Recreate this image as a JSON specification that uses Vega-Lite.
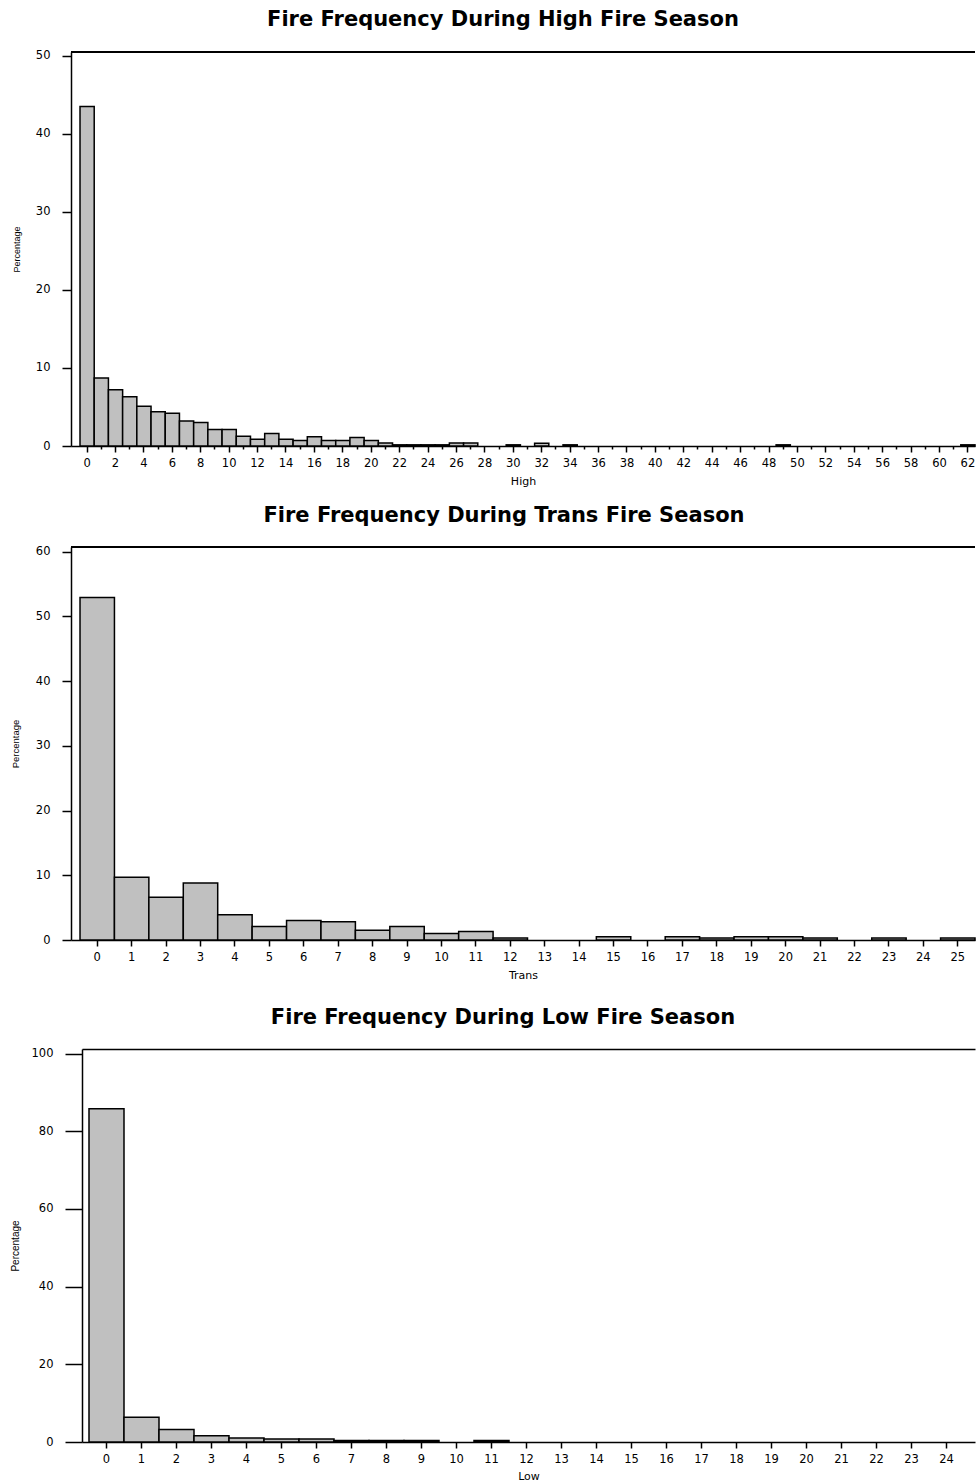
{
  "$schema": "https://vega.github.io/schema/vega-lite/v6.json",
  "background": "white",
  "padding": {"left": 10, "top": 8, "right": 0, "bottom": 0},
  "config": {
    "view": {"stroke": null},
    "title": {"font": "DejaVu Sans", "fontSize": 21, "fontWeight": "bold", "color": "black", "offset": 20},
    "axis": {"domainColor": "black", "domainWidth": 1.5, "tickColor": "black", "tickWidth": 1.5, "labelColor": "black", "titleColor": "black", "labelFont": "DejaVu Sans", "labelFontSize": 11.5, "titleFont": "DejaVu Sans", "titleFontWeight": "normal", "grid": false, "labelAngle": 0}
  },
  "datasets": {
    "high": [{"High":0,"Percentage":43.5},{"High":1,"Percentage":8.7},{"High":2,"Percentage":7.2},{"High":3,"Percentage":6.3},{"High":4,"Percentage":5.1},{"High":5,"Percentage":4.4},{"High":6,"Percentage":4.2},{"High":7,"Percentage":3.2},{"High":8,"Percentage":3.0},{"High":9,"Percentage":2.1},{"High":10,"Percentage":2.1},{"High":11,"Percentage":1.25},{"High":12,"Percentage":0.85},{"High":13,"Percentage":1.6},{"High":14,"Percentage":0.85},{"High":15,"Percentage":0.7},{"High":16,"Percentage":1.2},{"High":17,"Percentage":0.7},{"High":18,"Percentage":0.7},{"High":19,"Percentage":1.1},{"High":20,"Percentage":0.7},{"High":21,"Percentage":0.4},{"High":22,"Percentage":0.15},{"High":23,"Percentage":0.15},{"High":24,"Percentage":0.15},{"High":25,"Percentage":0.15},{"High":26,"Percentage":0.4},{"High":27,"Percentage":0.4},{"High":30,"Percentage":0.15},{"High":32,"Percentage":0.35},{"High":34,"Percentage":0.15},{"High":49,"Percentage":0.15},{"High":62,"Percentage":0.15}],
    "trans": [{"Trans":0,"Percentage":52.9},{"Trans":1,"Percentage":9.7},{"Trans":2,"Percentage":6.6},{"Trans":3,"Percentage":8.8},{"Trans":4,"Percentage":3.9},{"Trans":5,"Percentage":2.1},{"Trans":6,"Percentage":3.0},{"Trans":7,"Percentage":2.8},{"Trans":8,"Percentage":1.5},{"Trans":9,"Percentage":2.1},{"Trans":10,"Percentage":1.0},{"Trans":11,"Percentage":1.3},{"Trans":12,"Percentage":0.3},{"Trans":15,"Percentage":0.5},{"Trans":17,"Percentage":0.5},{"Trans":18,"Percentage":0.3},{"Trans":19,"Percentage":0.5},{"Trans":20,"Percentage":0.5},{"Trans":21,"Percentage":0.3},{"Trans":23,"Percentage":0.3},{"Trans":25,"Percentage":0.3}],
    "low": [{"Low":0,"Percentage":85.8},{"Low":1,"Percentage":6.4},{"Low":2,"Percentage":3.2},{"Low":3,"Percentage":1.6},{"Low":4,"Percentage":1.0},{"Low":5,"Percentage":0.75},{"Low":6,"Percentage":0.75},{"Low":7,"Percentage":0.4},{"Low":8,"Percentage":0.4},{"Low":9,"Percentage":0.4},{"Low":11,"Percentage":0.4}]
  },
  "spacing": 25,
  "vconcat": [
    {
      "spacing": 17,
      "vconcat": [
        {
          "title": {"text": "Fire Frequency During High Fire Season", "dx": -20},
          "width": 904, "height": 394,
          "data": {"name": "high"},
          "resolve": {"axis": {"x": "independent"}},
          "layer": [
            {
              "mark": {"type": "bar", "fill": "#c0c0c0", "stroke": "black", "strokeWidth": 1.5},
              "encoding": {
                "x": {"field": "High", "type": "ordinal",
                  "scale": {"domain": [0,1,2,3,4,5,6,7,8,9,10,11,12,13,14,15,16,17,18,19,20,21,22,23,24,25,26,27,28,29,30,31,32,33,34,35,36,37,38,39,40,41,42,43,44,45,46,47,48,49,50,51,52,53,54,55,56,57,58,59,60,61,62], "paddingInner": 0, "paddingOuter": 0.317, "align": 1},
                  "axis": {"orient": "bottom", "values": [0,2,4,6,8,10,12,14,16,18,20,22,24,26,28,30,32,34,36,38,40,42,44,46,48,50,52,54,56,58,60,62], "tickSize": 6, "labelPadding": 5, "title": "High", "titleFontSize": 11, "titlePadding": 7}},
                "y": {"field": "Percentage", "type": "quantitative",
                  "scale": {"domain": [0, 50.5], "nice": false},
                  "axis": {"values": [0,10,20,30,40,50], "tickSize": 9, "labelPadding": 12, "title": "Percentage", "titleFont": "Liberation Sans", "titleFontSize": 9, "titlePadding": 14}}
              }
            },
            {
              "mark": {"type": "bar", "opacity": 0},
              "encoding": {
                "x": {"field": "High", "type": "ordinal", "axis": {"orient": "bottom", "values": [1,3,5,7,9,11,13,15,17,19,21,23,25,27,29,31,33,35,37,39,41,43,45,47,49,51,53,55,57,59,61], "labels": false, "tickSize": 3, "domain": false, "title": null}},
                "y": {"field": "Percentage", "type": "quantitative"}
              }
            },
            {
              "mark": {"type": "rule", "color": "black", "strokeWidth": 1.5},
              "encoding": {"y": {"datum": 50.5}}
            }
          ]
        },
        {
          "title": {"text": "Fire Frequency During Trans Fire Season", "dx": -19},
          "width": 904, "height": 393,
          "data": {"name": "trans"},
          "layer": [
            {
              "mark": {"type": "bar", "fill": "#c0c0c0", "stroke": "black", "strokeWidth": 1.5},
              "encoding": {
                "x": {"field": "Trans", "type": "ordinal",
                  "scale": {"domain": [0,1,2,3,4,5,6,7,8,9,10,11,12,13,14,15,16,17,18,19,20,21,22,23,24,25], "paddingInner": 0, "paddingOuter": 0.131, "align": 1},
                  "axis": {"tickSize": 6, "labelPadding": 5, "title": "Trans", "titleFontSize": 11, "titlePadding": 7}},
                "y": {"field": "Percentage", "type": "quantitative",
                  "scale": {"domain": [0, 60.7], "nice": false},
                  "axis": {"values": [0,10,20,30,40,50,60], "tickSize": 9, "labelPadding": 12, "title": "Percentage", "titleFont": "Liberation Sans", "titleFontSize": 9.5, "titlePadding": 15}}
              }
            },
            {
              "mark": {"type": "rule", "color": "black", "strokeWidth": 1.5},
              "encoding": {"y": {"datum": 60.7}}
            }
          ]
        }
      ]
    },
    {
      "title": {"text": "Fire Frequency During Low Fire Season", "dx": -20},
      "width": 904, "height": 393,
      "data": {"name": "low"},
      "resolve": {"axis": {"x": "independent"}},
      "layer": [
        {
          "mark": {"type": "bar", "fill": "#c0c0c0", "stroke": "black", "strokeWidth": 1.5},
          "encoding": {
            "x": {"field": "Low", "type": "ordinal",
              "scale": {"domain": [0,1,2,3,4,5,6,7,8,9,10,11,12,13,14,15,16,17,18,19,20,21,22,23,24], "range": [11, 904], "paddingInner": 0, "paddingOuter": 0.257, "align": 0.389},
              "axis": {"orient": "bottom", "tickSize": 6, "labelPadding": 5, "title": "Low", "titleFontSize": 11, "titlePadding": 6}},
            "y": {"field": "Percentage", "type": "quantitative",
              "scale": {"domain": [0, 101.2], "nice": false},
              "axis": {"values": [0,20,40,60,80,100], "offset": -11, "tickSize": 17, "labelPadding": 12, "title": "Percentage", "titleFont": "Liberation Sans", "titleFontSize": 10, "titlePadding": 11}}
          }
        },
        {
          "mark": {"type": "bar", "opacity": 0},
          "encoding": {
            "x": {"field": "Low", "type": "ordinal", "axis": {"orient": "top", "labels": false, "ticks": false, "domain": true, "title": null}},
            "y": {"field": "Percentage", "type": "quantitative"}
          }
        }
      ]
    }
  ]
}
